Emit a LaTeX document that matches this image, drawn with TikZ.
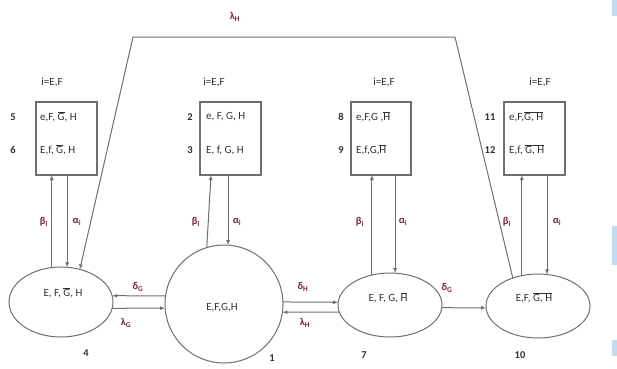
\documentclass[tikz,border=0pt]{standalone}
\usepackage{fontspec}
\setmainfont{Carlito}
\usetikzlibrary{arrows.meta,shapes.geometric,calc}
\definecolor{ln}{HTML}{6E6E6E}
\definecolor{tx}{HTML}{303030}
\definecolor{gk}{HTML}{7A2233}
\definecolor{bar}{HTML}{C5D9F1}
\newcommand{\ol}[1]{$\overline{\mbox{#1}}$}
\begin{document}
\begin{tikzpicture}[x=1pt,y=-1pt,
  box/.style={draw=ln, line width=1.1pt, minimum width=61pt, minimum height=73pt, inner sep=0pt, outer sep=0pt},
  st/.style={ellipse, draw=ln, line width=1pt, inner sep=0pt, outer sep=0pt},
  conn/.style={draw=ln, line width=1pt},
  arr/.style={conn, -{Latex[length=5pt,width=4pt]}},
  txt/.style={text=tx, font=\fontsize{11}{12}\selectfont, inner sep=0pt},
  num/.style={text=tx, font=\bfseries\fontsize{10.5}{11}\selectfont, inner sep=0pt},
  lab/.style={text=gk, font=\bfseries\fontsize{10.5}{11}\selectfont, inner sep=0pt}]
\useasboundingbox (0,0) rectangle (617,368);
% screenshot bars on right edge
\fill[bar] (612,0) rectangle (617,16);
\fill[bar] (612,226) rectangle (617,265);
\fill[bar] (612,340) rectangle (617,356);

% boxes
\node[box] (b5) at (66.5,138.5) {};
\node[box] (b2) at (230.5,138.5) {};
\node[box, minimum width=60pt] (b8) at (381,138.5) {};
\node[box] (b11) at (534.5,138.5) {};

% i=E,F labels
\node[txt] (i5) at (52,82) {i=E,F};
\node[txt] (i2) at (214,82) {i=E,F};
\node[txt] (i8) at (384,82) {i=E,F};
\node[txt] (i11) at (540,82) {i=E,F};

% box contents
\node[txt, anchor=west] (t5) at (40,117) {e,F, \ol{G}, H};
\node[txt, anchor=west] (t6) at (40,150) {E,f, \ol{G}, H};
\node[txt, anchor=west] (t2) at (206,117) {e, F, G, H};
\node[txt, anchor=west] (t3) at (206,150) {E, f, G, H};
\node[txt, anchor=west] (t8) at (356,117) {e,F,G ,\ol{H}};
\node[txt, anchor=west] (t9) at (356,150) {E,f,G,\ol{H}};
\node[txt, anchor=west] (t11) at (509,117) {e,F,\ol{G, H}};
\node[txt, anchor=west] (t12) at (509,150) {E,f, \ol{G, H}};

% row numbers
\node[num] (n5) at (13,117) {5};
\node[num] (n6) at (13,150) {6};
\node[num] (n2) at (190,117) {2};
\node[num] (n3) at (190,150) {3};
\node[num] (n8) at (341,117) {8};
\node[num] (n9) at (341,150) {9};
\node[num] (n11) at (490,117) {11};
\node[num] (n12) at (490,150) {12};

% states
\node[st, minimum width=104pt, minimum height=70pt] (e4) at (61,302) {};
\node[st, circle, minimum size=118pt] (c1) at (224,304) {};
\node[st, minimum width=104pt, minimum height=64pt] (e7) at (390,305) {};
\node[st, minimum width=104pt, minimum height=64pt] (e10) at (538,306) {};

\node[txt] (s4) at (63,293) {E, F, \ol{G}, H};
\node[txt] (s1) at (222,308) {E,F,G,H};
\node[txt] (s7) at (388,298) {E, F, G, \ol{H}};
\node[txt] (s10) at (534,298) {E,F, \ol{G, H}};

\node[num] (l4) at (86,353) {4};
\node[num] (l1) at (272,358) {1};
\node[num] (l7) at (364,355) {7};
\node[num] (l10) at (520,355) {10};

% vertical transitions
\draw[arr] (e4.105) -- (e4.105 |- b5.south);
\draw[arr] (b5.south -| e4.80) -- (e4.80);
\draw[arr] (c1.107) -- ([xshift=-19.5pt]b2.south);
\draw[arr] (b2.south -| c1.86) -- (c1.86);
\draw[arr] (e7.121) -- (e7.121 |- b8.south);
\draw[arr] (b8.south -| e7.81) -- (e7.81);
\draw[arr] (e10.118) -- (e10.118 |- b11.south);
\draw[arr] (b11.south -| e10.74) -- (e10.74);

\node[lab] (be5) at (44,222) {β\textsubscript{i}};
\node[lab] (al5) at (77,222) {α\textsubscript{i}};
\node[lab] (be2) at (196,222) {β\textsubscript{i}};
\node[lab] (al2) at (237,222) {α\textsubscript{i}};
\node[lab] (be8) at (360,222) {β\textsubscript{i}};
\node[lab] (al8) at (403,222) {α\textsubscript{i}};
\node[lab] (be11) at (507,222) {β\textsubscript{i}};
\node[lab] (al11) at (557,222) {α\textsubscript{i}};

% horizontal transitions
\draw[arr] (c1.172) -- (e4.7);
\draw[arr] (e4.-7) -- (c1.184);
\draw[arr] (c1.2) -- (e7.177);
\draw[arr] (e7.188) -- (c1.-8);
\draw[arr] (e7.-3) -- (e10.182);

\node[lab] (dg1) at (138,287) {δ\textsubscript{G}};
\node[lab] (lg1) at (126,323) {λ\textsubscript{G}};
\node[lab] (dh1) at (303,287) {δ\textsubscript{H}};
\node[lab] (lh1) at (305,323) {λ\textsubscript{H}};
\node[lab] (dg2) at (447,288) {δ\textsubscript{G}};

% long lambda_H transition
\coordinate (tr) at (455,37);
\coordinate (tl) at (133,37);
\draw[arr] (e10.132) -- (tr) -- (tl) -- (e4.60);
\node[lab] (lhtop) at (235,17) {λ\textsubscript{H}};
\end{tikzpicture}
\end{document}
